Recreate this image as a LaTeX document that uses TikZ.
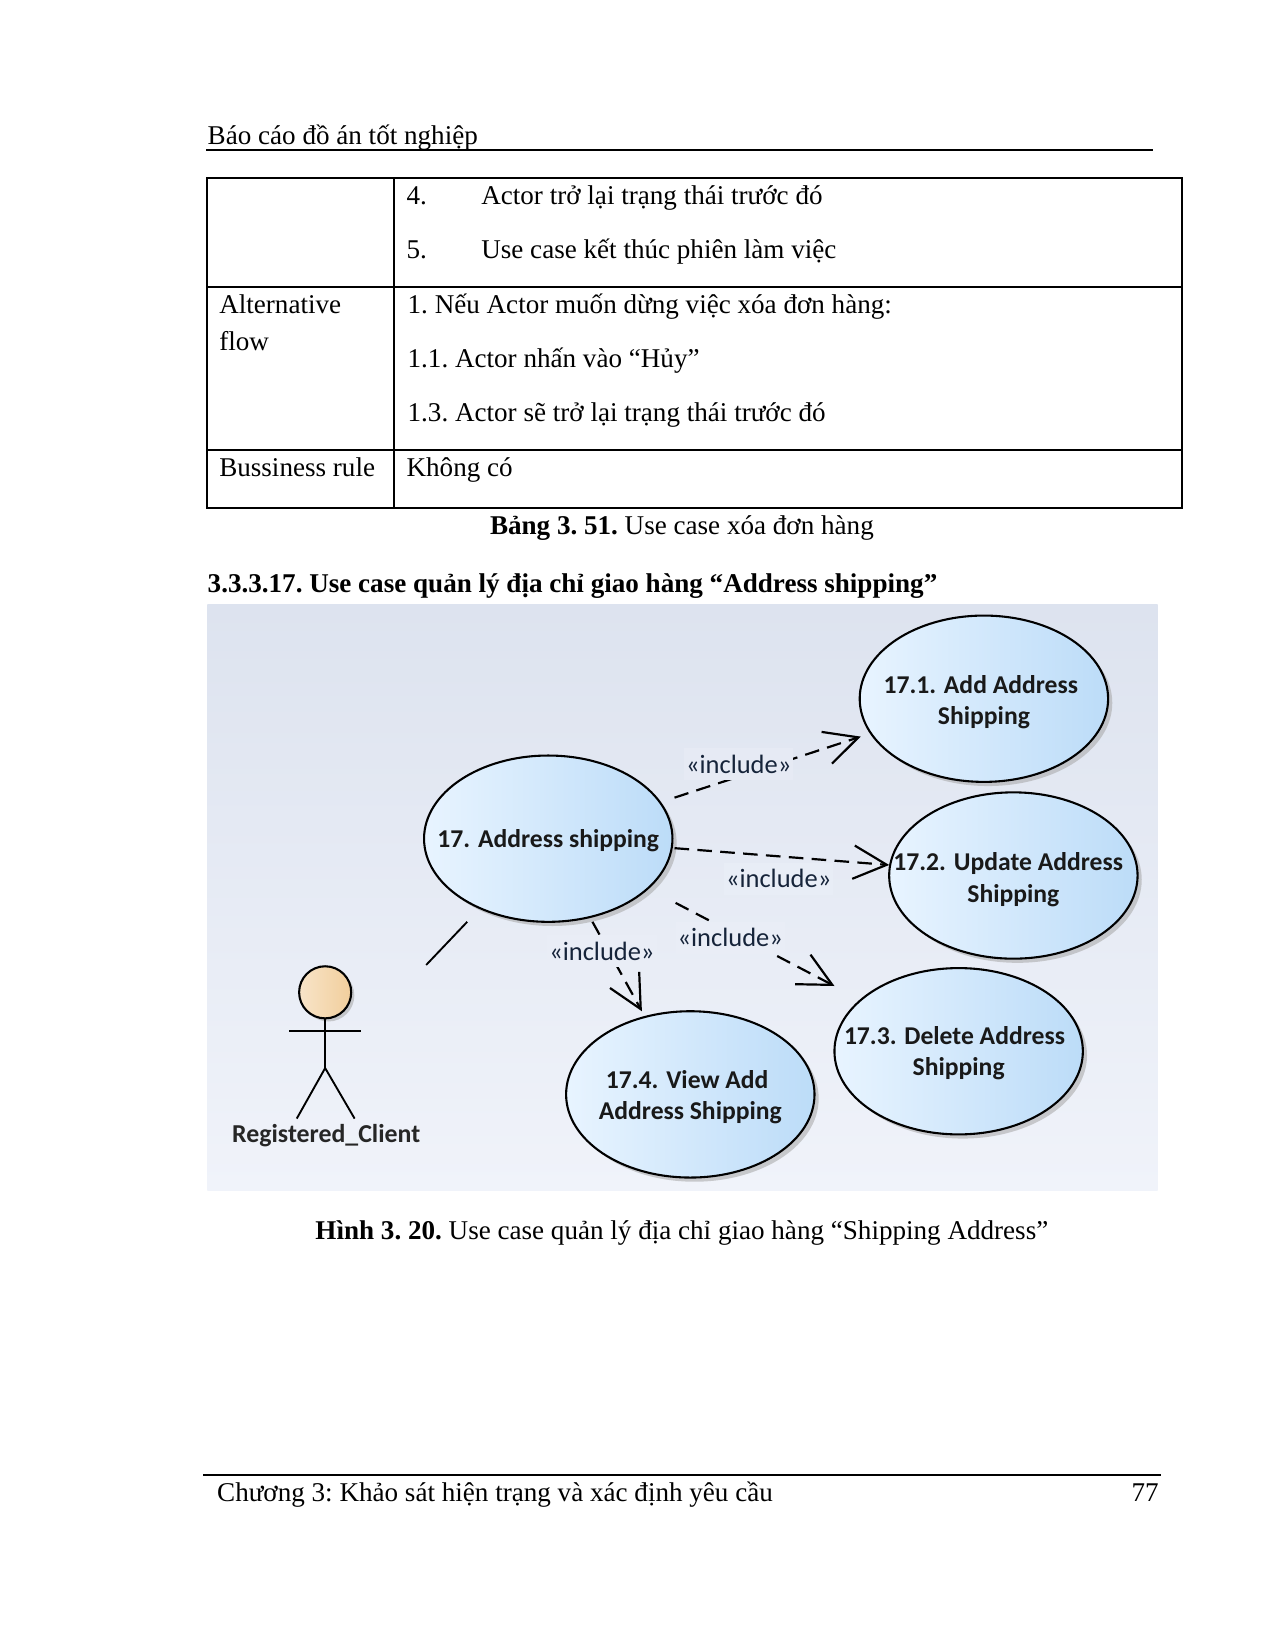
\documentclass[tikz,border=0pt]{standalone}
\usepackage{fontspec}
\setmainfont{Liberation Serif}
\newfontfamily\diag{Carlito}
\usetikzlibrary{shapes.geometric,shadows,arrows.meta}
\definecolor{inclc}{HTML}{16243A}
\definecolor{ucl}{HTML}{E8F4FF}
\definecolor{ucr}{HTML}{BCDCF8}
\definecolor{bgt}{HTML}{DDE3EF}
\definecolor{bgb}{HTML}{F0F3FA}
\definecolor{headl}{HTML}{F8E4C8}
\definecolor{headr}{HTML}{F1CE9C}
% a line of use case text, centred, with an optional shift to the left
\newcommand{\ucline}[2][0pt]{\makebox[0pt][c]{#2\hspace{#1}}}
\tikzset{
  doc/.style={anchor=base west,inner sep=0pt,font=\frenchspacing\fontsize{13}{15}\selectfont},
  capt/.style={anchor=base,inner sep=0pt,font=\frenchspacing\fontsize{13}{15}\selectfont},
  rulel/.style={line width=0.85pt},
  rulethick/.style={line width=1.05pt},
  uc/.style={ellipse,draw=black,line width=1pt,minimum width=119.2pt,minimum height=79.8pt,inner sep=0pt,
    left color=ucl,right color=ucr,
    drop shadow={shadow xshift=2pt,shadow yshift=-2pt,fill=black!35,opacity=.55}},
  uctext/.style={align=center,inner sep=0pt,font=\diag\bfseries\fontsize{12.3}{14.9}\selectfont,text=black!90},
  inclabel/.style={inner xsep=1pt,inner ysep=3.2pt,font=\diag\fontsize{12.7}{14}\selectfont,text=inclc},
  dep/.style={line width=1.05pt,dash pattern=on 7pt off 4pt,-{Straight Barb[length=16pt,width=16pt,line width=1.05pt]}},
  assoc/.style={line width=0.9pt},
  limb/.style={line width=0.9pt}
}
\begin{document}
\begin{tikzpicture}[x=0.50495pt,y=-0.50495pt]
\useasboundingbox (0,0) rectangle (1212,1568);
\fill[white] (0,0) rectangle (1212,1568);
% header
\node[doc] (hdr) at (197,137) {Báo cáo đồ án tốt nghiệp};
\draw[rulethick] (196,142.5) -- (1096,142.5);
% table
\draw[rulel] (196.5,169.5) rectangle (1123,482.5);
\draw[rulel] (374.5,169.5) -- (374.5,482.5);
\draw[rulel] (196.5,272.5) -- (1123,272.5);
\draw[rulel] (196.5,427.5) -- (1123,427.5);
\node[doc] (t4n) at (386,194) {4.};
\node[doc] (t4) at (457,194) {Actor trở lại trạng thái trước đó};
\node[doc] (t5n) at (386,246) {5.};
\node[doc] (t5) at (457,246) {Use case kết thúc phiên làm việc};
\node[doc] (alt) at (208,298) {Alternative};
\node[doc] (flow) at (208,333) {flow};
\node[doc] (a1) at (387,298) {1. Nếu Actor muốn dừng việc xóa đơn hàng:};
\node[doc] (a2) at (387,349) {1.1. Actor nhấn vào “Hủy”};
\node[doc] (a3) at (387,401) {1.3. Actor sẽ trở lại trạng thái trước đó};
\node[doc] (br) at (208,453) {Bussiness rule};
\node[doc] (kc) at (386,453) {Không có};
\node[capt] (c1) at (648,508) {\textbf{Bảng 3. 51.} Use case xóa đơn hàng};
\node[doc] (h3) at (197,563) {\textbf{3.3.3.17. Use case quản lý địa chỉ giao hàng “Address shipping”}};
% diagram background
\shade[top color=bgt,bottom color=bgb] (197,574) rectangle (1100,1131);
% use cases
\node[uc] (m) at (521,797) {};
\node[uc] (a) at (935,664) {};
\node[uc] (u) at (963,832) {};
\node[uc] (d) at (911,999) {};
\node[uc] (v) at (656,1040) {};
% connector ends
\coordinate (ms1) at (641,758); \coordinate (ae) at (818,700);
\coordinate (ms2) at (641,806); \coordinate (ue) at (845,822);
\coordinate (ms3) at (642,858); \coordinate (de) at (793,937);
\coordinate (ms4) at (563,876); \coordinate (ve) at (610,961);
\draw[dep] (ms1) -- (ae);
\draw[dep] (ms2) -- (ue);
\draw[dep] (ms3) -- (de);
\draw[dep] (ms4) -- (ve);
% use case texts
\node[uctext] (mt) at ([yshift=-1pt]m.center) {\ucline{17. Address shipping}};
\node[uctext] (at) at ([yshift=-1.5pt]a.center) {\ucline[3pt]{17.1. Add Address}\\\ucline{Shipping}};
\node[uctext] (ut) at ([yshift=-2pt]u.center) {\ucline[5pt]{17.2. Update Address}\\\ucline{Shipping}};
\node[uctext] (dt) at ([yshift=-1pt]d.center) {\ucline[4pt]{17.3. Delete Address}\\\ucline{Shipping}};
\node[uctext] (vt) at ([yshift=-1.5pt]v.center) {\ucline[3pt]{17.4. View Add}\\\ucline{Address Shipping}};
% labels
\node[inclabel,fill=bgt!55!bgb] (l1) at (702,726) {«include»};
\node[inclabel,fill=bgt!40!bgb] (l2) at (740,835) {«include»};
\node[inclabel,fill=bgt!35!bgb] (l3) at (694,891) {«include»};
\node[inclabel,fill=bgt!35!bgb] (l4) at (572,904) {«include»};
% actor
\node[circle,draw=black,line width=1pt,minimum size=25pt,inner sep=0pt,
  left color=headl,right color=headr,
  drop shadow={shadow xshift=1.5pt,shadow yshift=-1.5pt,fill=black!35,opacity=.55}] (head) at (309,943) {};
\coordinate (larm) at (275,980); \coordinate (rarm) at (343,980);
\coordinate (hip) at (309,1015);
\coordinate (lfoot) at (282,1063); \coordinate (rfoot) at (337,1063);
\draw[limb] (larm) -- (rarm);
\draw[limb] (head) -- (hip);
\draw[limb] (lfoot) -- (hip) -- (rfoot);
\node[inner sep=0pt,font=\diag\bfseries\fontsize{12.4}{14}\selectfont,text=black!85] (act) at (310,1079) {Registered\_Client};
\coordinate (as1) at (405,917); \coordinate (as2) at (444,876);
\draw[assoc] (as1) -- (as2);
% caption, footer
\node[capt] (c2) at (648,1178) {\textbf{Hình 3. 20.} Use case quản lý địa chỉ giao hàng “Shipping Address”};
\draw[rulethick] (193,1401.5) -- (1103,1401.5);
\node[doc] (ft) at (206,1427) {Chương 3: Khảo sát hiện trạng và xác định yêu cầu};
\node[doc] (pg) at (1075,1427) {77};
\end{tikzpicture}
\end{document}
